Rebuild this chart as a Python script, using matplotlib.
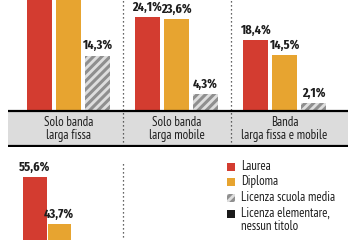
import matplotlib
matplotlib.use('Agg')
import matplotlib.pyplot as plt
from matplotlib.patches import Rectangle

plt.rcParams['font.family'] = ['PT Sans Narrow', 'DejaVu Sans']
plt.rcParams['hatch.linewidth'] = 2.2
plt.rcParams['hatch.color'] = '#8f8f8f'
NUM_FONT = ['Fira Sans Extra Condensed', 'DejaVu Sans']

# data (first group's red/orange run off the top of the crop)
groups = ['Solo banda\nlarga fissa', 'Solo banda\nlarga mobile', 'Banda\nlarga fissa e mobile']
laurea_top = [36.0, 24.1, 18.4]
diploma_top = [35.0, 23.6, 14.5]
media_top = [14.3, 4.3, 2.1]

laurea_bot = [55.6]
diploma_bot = [43.7]

legend_labels = ['Laurea', 'Diploma', 'Licenza scuola media', 'Licenza elementare,\nnessun titolo']

RED = '#d33c30'
ORANGE = '#e7a430'
HATCH_BG = '#dedede'
BAND = '#dcdcdc'
TXT = '#1e1e1e'

W, H = 360, 240
fig = plt.figure(figsize=(3.6, 2.4), dpi=100)


def pct(v):
    return f'{v:.1f}%'.replace('.', ',')


# ---- top panel ----
ppp = 3.88          # pixels per percent
gap = 108.0         # pixels between groups
ax = fig.add_axes([0, 93 / H, 1, 147 / H])
ax.set_xlim(-68.5 / gap, (W - 68.5) / gap)
ax.set_ylim(-36 / ppp, 111 / ppp)
ax.axis('off')

step = 29 / gap
bw = 25 / gap
series = [(laurea_top, RED, None), (diploma_top, ORANGE, None), (media_top, HATCH_BG, '////')]
for k, (vals, col, hatch) in enumerate(series):
    xs = [g + (k - 1) * step for g in range(len(groups))]
    ax.bar(xs, vals, width=bw, color=col, hatch=hatch, linewidth=0,
           edgecolor='#8f8f8f' if hatch else col)
    for x, v in zip(xs, vals):
        ax.annotate(pct(v), (x, v), xytext=(0, 2.5),
                    textcoords='offset points', ha='center', va='bottom',
                    fontsize=9.6, fontweight='bold', color=TXT, family=NUM_FONT)

# grey band with group names
x0, x1 = (8 - 68.5) / gap, (348 - 68.5) / gap
yb = -35 / ppp
ax.add_patch(Rectangle((x0, yb), x1 - x0, -yb, color=BAND, lw=0, zorder=1))
ax.plot([x0, x1], [0, 0], color='black', lw=1.6, solid_capstyle='butt', zorder=3)
ax.plot([x0, x1], [yb, yb], color='black', lw=1.6, solid_capstyle='butt', zorder=3)
for g, name in enumerate(groups):
    ax.text(g, -17.5 / ppp, name, ha='center', va='center', fontsize=9.2,
            color=TXT, linespacing=1.0)
for s in [0.5, 1.5]:
    ax.plot([s, s], [yb, 111 / ppp], color='#333333', lw=0.9,
            linestyle=(0, (1, 2.2)), zorder=2)

# ---- bottom panel ----
ppp2 = 3.95
base = 397
ax2 = fig.add_axes([0, 0, 1, 93 / H])
ax2.set_xlim(-71.5 / gap, (W - 71.5) / gap)
ax2.set_ylim((base - 240) / ppp2, (base - 147) / ppp2)
ax2.axis('off')

step2 = 24.5 / gap
bw2 = 23.5 / gap
for k, (vals, col) in enumerate([(laurea_bot, RED), (diploma_bot, ORANGE)]):
    xs = [g + (k - 1.5) * step2 for g in range(len(vals))]
    ax2.bar(xs, vals, width=bw2, color=col, linewidth=0)
    for x, v in zip(xs, vals):
        ax2.annotate(pct(v), (x, v), xytext=(0, 2.5),
                     textcoords='offset points', ha='center', va='bottom',
                     fontsize=9.6, fontweight='bold', color=TXT, family=NUM_FONT)
ax2.plot([0.48, 0.48], [0, (base - 163) / ppp2], color='#333333', lw=0.9,
         linestyle=(0, (1, 2.2)))

# ---- legend ----
rows = [167, 182, 198, 214]
leg_style = [dict(color=RED), dict(color=ORANGE),
             dict(facecolor=HATCH_BG, hatch='////', edgecolor='#8f8f8f'),
             dict(color='#1a1a1a')]
for y, lab, st in zip(rows, legend_labels, leg_style):
    fig.add_artist(Rectangle((227 / W, 1 - (y + 4) / H), 8 / W, 8 / H,
                             transform=fig.transFigure, lw=0, **st))
    fig.text(241 / W, 1 - (y - 7) / H, lab, ha='left', va='top', fontsize=9.2,
             color=TXT, linespacing=0.95)

fig.savefig('out.png', dpi=100)
